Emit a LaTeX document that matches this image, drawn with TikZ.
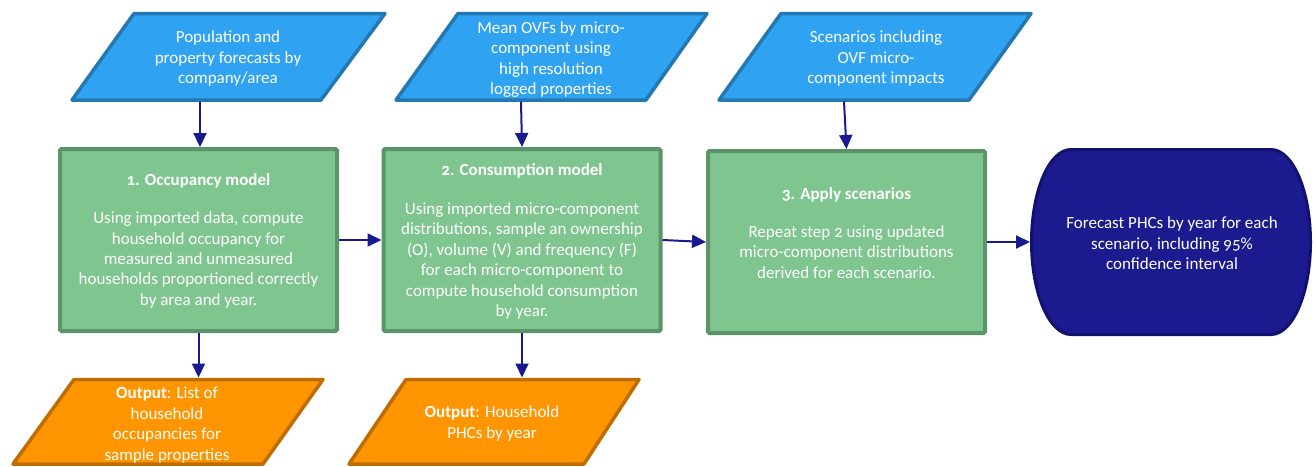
\documentclass[tikz,border=0pt]{standalone}
\usepackage{fontspec}
\setmainfont{Carlito}[Numbers=OldStyle]
\usetikzlibrary{arrows.meta}
\definecolor{bfill}{RGB}{47,163,241}
\definecolor{bline}{RGB}{35,120,180}
\definecolor{gfill}{RGB}{127,197,143}
\definecolor{gline}{RGB}{91,148,105}
\definecolor{ofill}{RGB}{255,149,0}
\definecolor{oline}{RGB}{191,108,0}
\definecolor{nfill}{RGB}{27,27,143}
\definecolor{nline}{RGB}{17,17,112}
\definecolor{arrcol}{RGB}{26,26,144}
\tikzset{
  bluepar/.style={draw=bline, fill=bfill, line width=3.5pt, line join=round},
  orangepar/.style={draw=oline, fill=ofill, line width=3.5pt, line join=round},
  gbox/.style={draw=gline, fill=gfill, line width=4pt, rounded corners=1.5pt, minimum width=277pt, minimum height=182pt, inner sep=0pt},
  termshape/.style={draw=nline, fill=nfill, line width=3pt},
  txt/.style={text=white, align=center, font=\fontsize{17pt}{20.4pt}\selectfont, inner sep=0pt},
  arr/.style={draw=arrcol, line width=2pt, -{Triangle[length=14pt,width=13pt]}}
}
\begin{document}
\begin{tikzpicture}[x=1pt,y=1pt]
\useasboundingbox (0,0) rectangle (1316,-466);
% input parallelograms
\draw[bluepar] (134,-13.5) -- (385,-13.5) -- (321,-100) -- (72,-100) -- cycle;
\node[txt] (p1) at (228,-58.5) {Population and\\property forecasts by\\company/area};
\coordinate (p1s) at (200,-101.5);
\draw[bluepar] (458,-13.5) -- (707,-13.5) -- (646,-100) -- (396,-100) -- cycle;
\node[txt] (p2) at (551,-59.5) {Mean OVFs by micro-\\component using\\high resolution\\logged properties};
\coordinate (p2s) at (521,-101.5);
\draw[bluepar] (781,-13.5) -- (1031,-13.5) -- (969,-100) -- (719,-100) -- cycle;
\node[txt] (p3) at (876,-58.5) {Scenarios including\\OVF micro-\\component impacts};
\coordinate (p3s) at (844,-101.5);
% process boxes
\node[gbox] (b1) at (198.5,-240) {};
\node[txt] (b1t) at (198.5,-241) {\textbf{1. Occupancy model}\\[17.5pt]Using imported data, compute\\household occupancy for\\measured and unmeasured\\households proportioned correctly\\by area and year.};
\node[gbox] (b2) at (522,-240) {};
\node[txt] (b2t) at (522,-241.5) {\textbf{2. Consumption model}\\[18.5pt]Using imported micro-component\\distributions, sample an ownership\\(O), volume (V) and frequency (F)\\for each micro-component to\\compute household consumption\\by year.};
\node[gbox] (b3) at (846.5,-242) {};
\node[txt] (b3t) at (846.5,-233) {\textbf{3. Apply scenarios}\\[17.5pt]Repeat step 2 using updated\\micro-component distributions\\derived for each scenario.};
% terminal
\draw[termshape] (1071,-149.5) -- (1271,-149.5) arc[start angle=90, end angle=-90, x radius=39.5, y radius=92.5] -- (1071,-334.5) arc[start angle=270, end angle=90, x radius=39.5, y radius=92.5] -- cycle;
\node[txt] (term) at (1172,-243.5) {Forecast PHCs by year for each\\scenario, including 95\%\\confidence interval};
\coordinate (termw) at (1030,-242);
% outputs
\draw[orangepar] (74,-379.5) -- (323,-379.5) -- (263,-464) -- (13,-464) -- cycle;
\node[txt] (o1) at (167,-425) {\textbf{Output}: List of\\household\\occupancies for\\sample properties};
\coordinate (o1n) at (198.5,-377.5);
\draw[orangepar] (406,-379.5) -- (639,-379.5) -- (584,-464) -- (349,-464) -- cycle;
\node[txt] (o2) at (492,-423.5) {\textbf{Output}: Household\\PHCs by year};
\coordinate (o2n) at (522,-377.5);
% connectors
\draw[arr] (p1s) -- (p1s |- b1.north);
\draw[arr] (p2s) -- (b2.north);
\draw[arr] (p3s) -- (b3.north);
\draw[arr] (b1.east) -- (b2.west);
\draw[arr] (b2.east) -- (b3.west);
\draw[arr] (b3.east) -- (termw);
\draw[arr] (b1.south) -- (o1n);
\draw[arr] (b2.south) -- (o2n);
\end{tikzpicture}
\end{document}
